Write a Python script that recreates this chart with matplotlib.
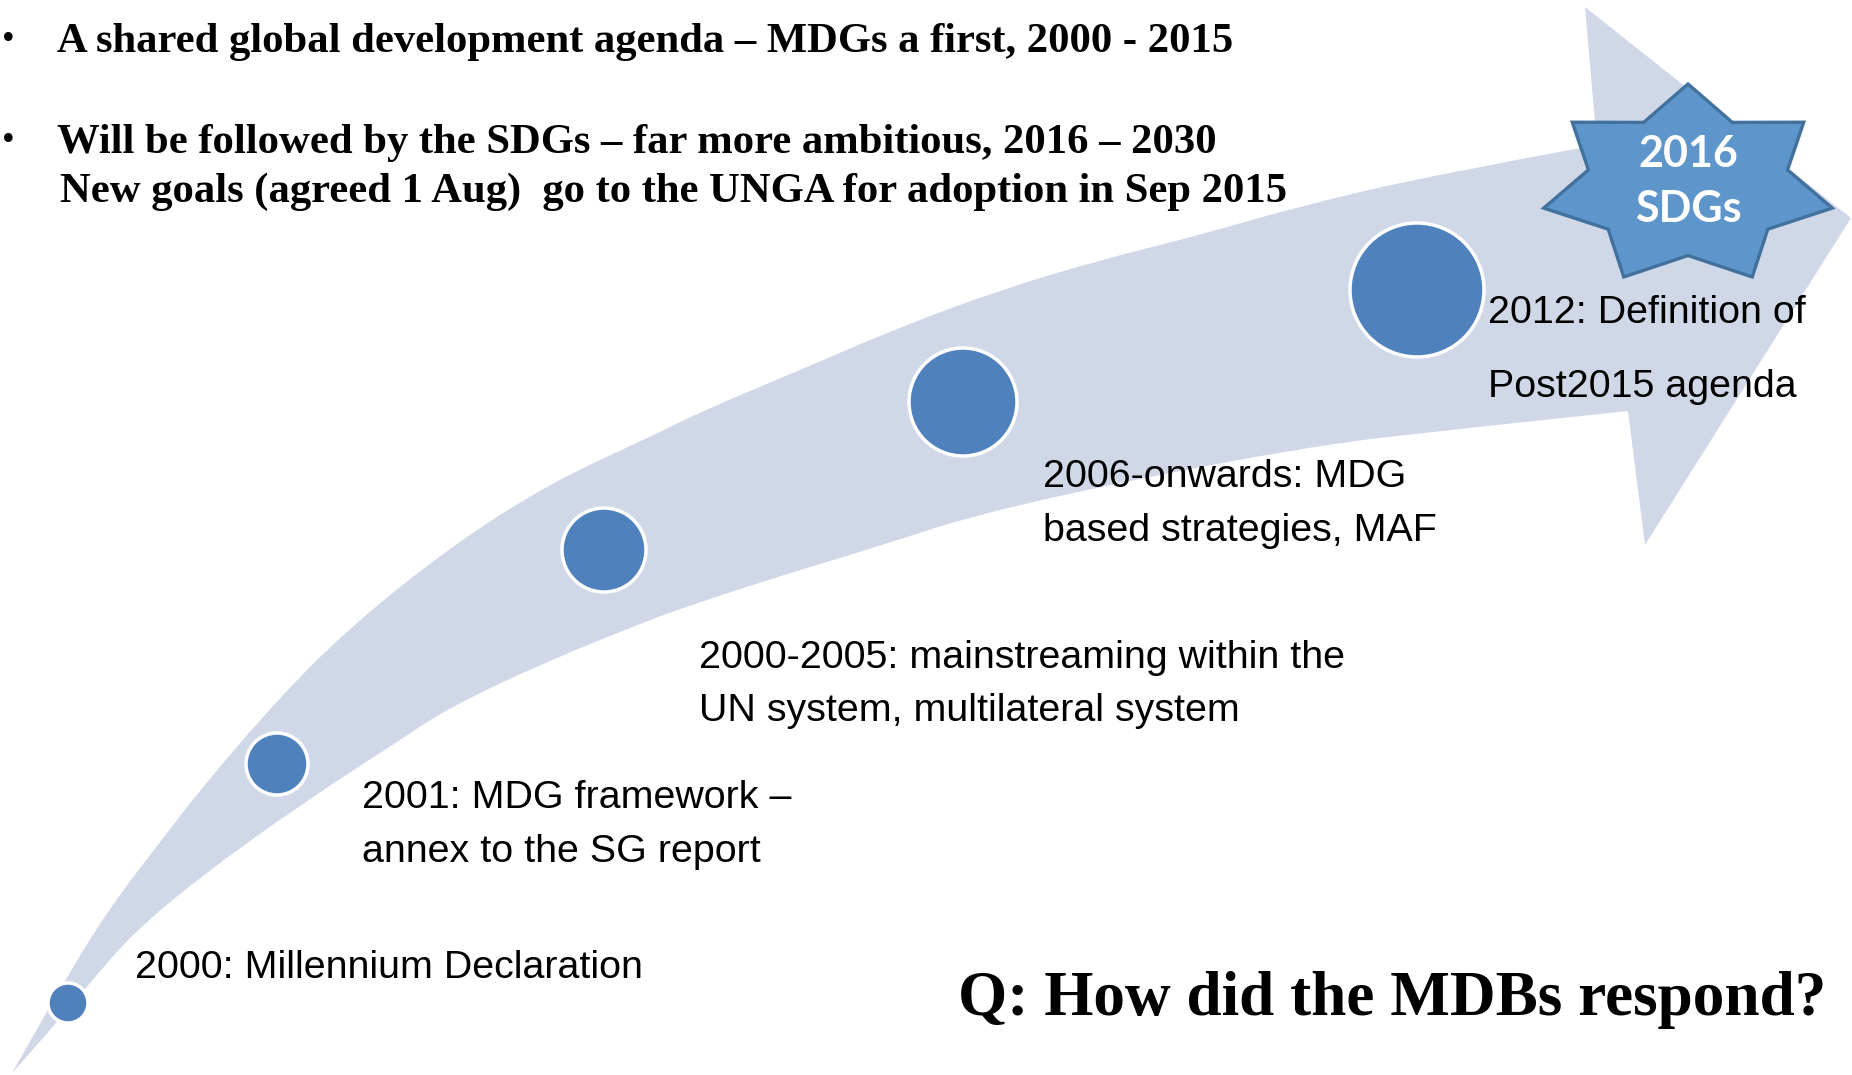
"""MDGs -> SDGs timeline: curved arrow with milestone dots and labels."""

import numpy as np
import matplotlib

matplotlib.use("Agg")
import matplotlib.pyplot as plt  # noqa: E402
from matplotlib.patches import Circle, PathPatch, Polygon  # noqa: E402
from matplotlib.path import Path  # noqa: E402

W, H = 1852, 1075

# arrow outline (pixel coords, y down)
upper_x = [12, 63, 110, 167, 200, 277, 350, 450, 550, 650, 700, 800, 900, 1000,
           1100, 1200, 1300, 1433, 1597]
upper_y = [1073, 983, 907, 833, 790, 700, 627, 547, 483, 437, 412, 370, 327, 290,
           260, 235, 206, 175, 145]
head_x = [1585, 1851, 1645, 1628]
head_y = [7, 218, 545, 411]
lower_x = [1628, 1467, 1300, 1000, 867, 767, 677, 650, 550, 450, 400, 300, 200,
           133, 90, 33, 12]
lower_y = [411, 428, 447, 507, 550, 580, 610, 620, 660, 707, 740, 805, 877,
           933, 983, 1050, 1073]

# milestone dots
dot_x = [68, 277, 604, 963, 1417]
dot_y = [1003, 764, 550, 402, 290]
dot_r = [20, 31, 42, 54, 67]

# milestone labels: text lines, left x, first baseline, line gap
labels = [
    ["2000: Millennium Declaration"],
    ["2001: MDG framework –", "annex to the SG report"],
    ["2000-2005: mainstreaming within the", "UN system, multilateral system"],
    ["2006-onwards: MDG", "based strategies, MAF"],
    ["2012: Definition of", "Post2015 agenda"],
]
label_x = [135, 362, 699, 1043, 1488]
label_base = [978, 808, 668, 487, 323]
label_gap = [54, 54, 53, 54, 74]

bullets = [
    "A shared global development agenda – MDGs a first, 2000 - 2015",
    "Will be followed by the SDGs – far more ambitious, 2016 – 2030",
]
bullet_base = [52, 153]
sub_line = "New goals (agreed 1 Aug)  go to the UNGA for adoption in Sep 2015"
question = "Q: How did the MDBs respond?"

BAND = "#D0D8E8"
DOT = "#4F81BD"
STAR_FILL = "#5E95CA"
STAR_EDGE = "#41719C"
SANS = ["Liberation Sans", "DejaVu Sans"]
SERIF = ["Liberation Serif", "DejaVu Serif"]


def smooth(xs, ys):
    """Quadratic B-spline through the read points (ends pinned)."""
    pts = list(zip(xs, ys))
    verts, codes = [], []
    for i in range(1, len(pts) - 1):
        if i == len(pts) - 2:
            end = pts[-1]
        else:
            end = ((pts[i][0] + pts[i + 1][0]) / 2, (pts[i][1] + pts[i + 1][1]) / 2)
        verts += [pts[i], end]
        codes += [Path.CURVE3, Path.CURVE3]
    return verts, codes


fig = plt.figure(figsize=(W / 100, H / 100), dpi=100)
ax = fig.add_axes([0, 0, 1, 1])
ax.set_xlim(0, W)
ax.set_ylim(H, 0)
ax.axis("off")

verts = [(upper_x[0], upper_y[0])]
codes = [Path.MOVETO]
v, c = smooth(upper_x, upper_y)
verts += v
codes += c
verts += list(zip(head_x, head_y))
codes += [Path.LINETO] * len(head_x)
v, c = smooth(lower_x, lower_y)
verts += v
codes += c
verts.append(verts[0])
codes.append(Path.CLOSEPOLY)
ax.add_patch(PathPatch(Path(verts, codes), facecolor=BAND, edgecolor="none", zorder=1))

for x, y, r in zip(dot_x, dot_y, dot_r):
    ax.add_patch(Circle((x, y), r, facecolor=DOT, edgecolor="white", lw=2.5, zorder=3))

# 7-point star, stretched sideways
cx, cy, rx, ry, inner = 1688, 185.5, 148, 101.5, 0.69
ang = np.pi / 2 - np.arange(14) * np.pi / 7
k = np.where(np.arange(14) % 2 == 0, 1.0, inner)
star = np.column_stack([cx + rx * k * np.cos(ang), cy - ry * k * np.sin(ang)])
ax.add_patch(Polygon(star, closed=True, facecolor=STAR_FILL, edgecolor=STAR_EDGE,
                     lw=2.4, joinstyle="miter", zorder=4))
ax.text(cx, 167, "2016", color="white", fontsize=31, fontweight="bold",
        family=["Lato", "DejaVu Sans"], ha="center", va="baseline", zorder=5)
ax.text(cx, 222, "SDGs", color="white", fontsize=31, fontweight="bold",
        family=["Lato", "DejaVu Sans"], ha="center", va="baseline", zorder=5)

for lines, x, y0, gap in zip(labels, label_x, label_base, label_gap):
    for i, line in enumerate(lines):
        ax.text(x, y0 + i * gap, line, fontsize=28.4, family=SANS,
                ha="left", va="baseline", zorder=5)

for text, yb in zip(bullets, bullet_base):
    ax.text(2, yb - 3, "•", fontsize=26, family=SERIF, ha="left", va="baseline")
    ax.text(57, yb, text, fontsize=30.7, fontweight="bold", family=SERIF,
            ha="left", va="baseline")
ax.text(60, 202, sub_line, fontsize=30.7, fontweight="bold", family=SERIF,
        ha="left", va="baseline")

ax.text(958, 1015, question, fontsize=45.5, fontweight="bold", family=SERIF,
        ha="left", va="baseline")

fig.savefig("out.png", dpi=100, facecolor="white")
plt.close(fig)
